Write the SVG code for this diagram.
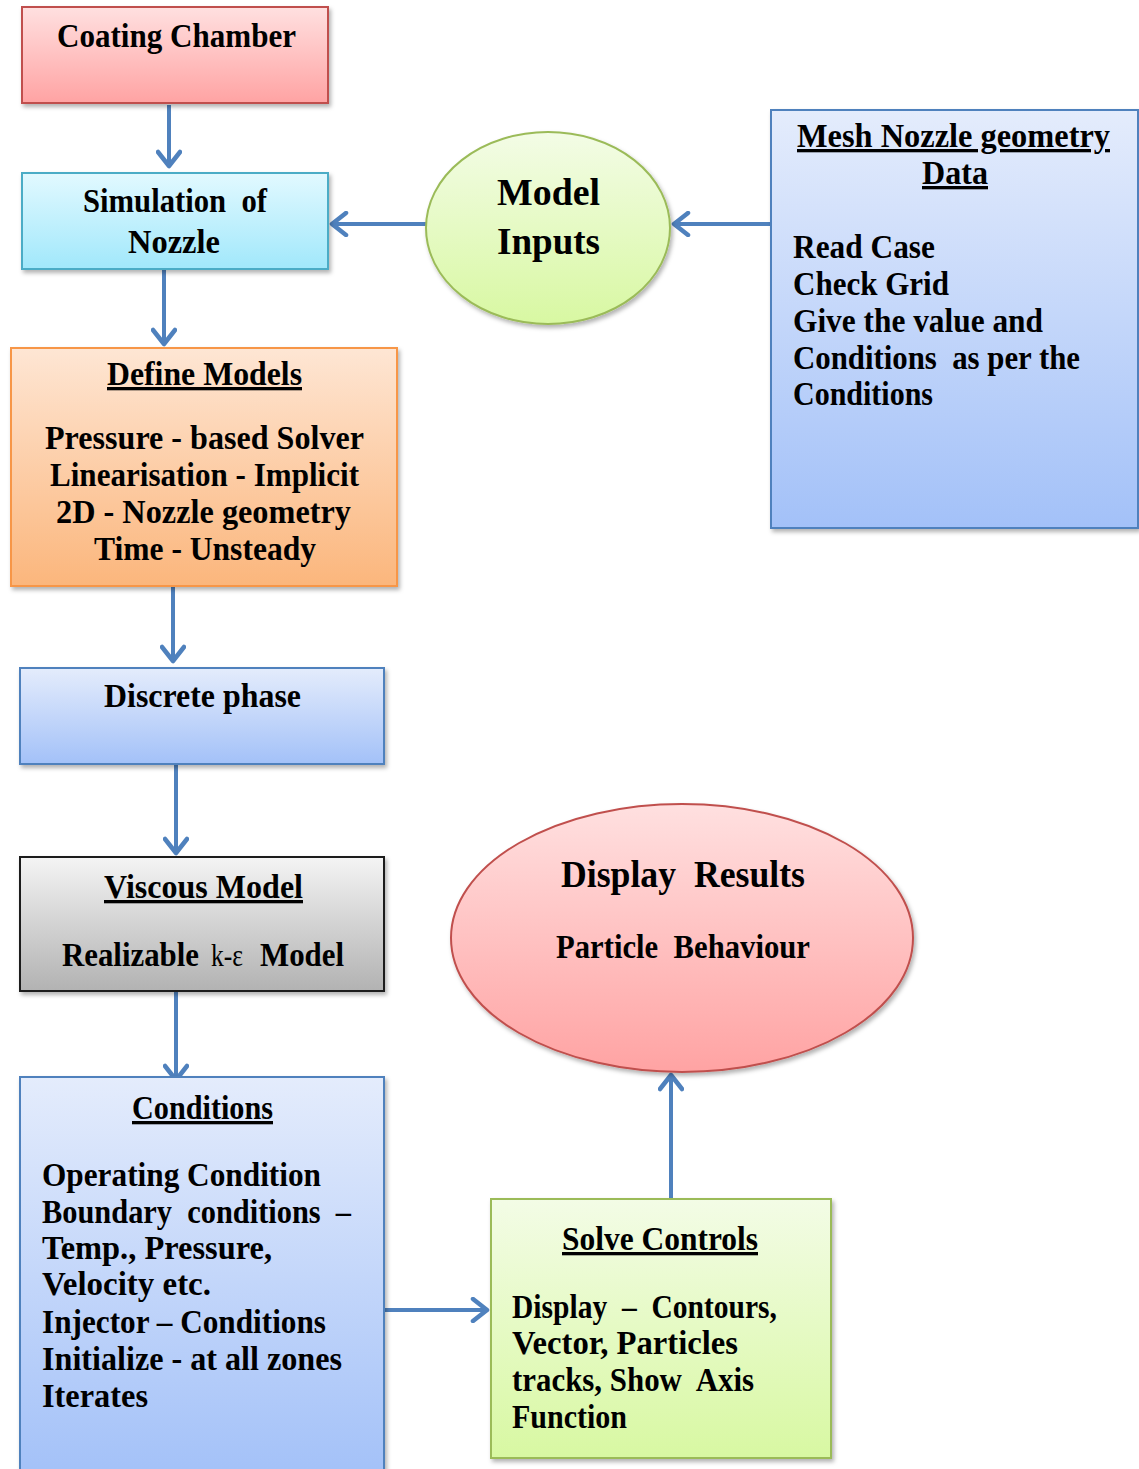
<svg xmlns="http://www.w3.org/2000/svg" width="1139" height="1469" viewBox="0 0 1139 1469">
<style>
text{font-family:"Liberation Serif","Times New Roman",serif;font-weight:bold;fill:#000;}
.t30{font-size:33px;}
.t34{font-size:37px;}
.c{text-anchor:middle;}
.u{text-decoration:underline;}
.n{font-weight:normal;}
.conn{stroke:#4f81bd;stroke-width:4;fill:none;marker-end:url(#arr);}
</style>
<defs>
<linearGradient id="gRed" x1="0" y1="0" x2="0" y2="1"><stop offset="0" stop-color="#ffe0e0"/><stop offset="1" stop-color="#ffa3a3"/></linearGradient>
<linearGradient id="gCyan" x1="0" y1="0" x2="0" y2="1"><stop offset="0" stop-color="#e2f9ff"/><stop offset="1" stop-color="#a1e8fb"/></linearGradient>
<linearGradient id="gGreen" x1="0" y1="0" x2="0" y2="1"><stop offset="0" stop-color="#f3fce6"/><stop offset="1" stop-color="#d8f8a2"/></linearGradient>
<linearGradient id="gBlue" x1="0" y1="0" x2="0" y2="1"><stop offset="0" stop-color="#e4ecfc"/><stop offset="1" stop-color="#a3c1f8"/></linearGradient>
<linearGradient id="gOrange" x1="0" y1="0" x2="0" y2="1"><stop offset="0" stop-color="#fee6d4"/><stop offset="1" stop-color="#fbb67c"/></linearGradient>
<linearGradient id="gGray" x1="0" y1="0" x2="0" y2="1"><stop offset="0" stop-color="#f4f4f4"/><stop offset="1" stop-color="#b2b2b2"/></linearGradient>
<filter id="sh" x="-10%" y="-10%" width="130%" height="130%"><feDropShadow dx="2" dy="3" stdDeviation="2" flood-color="#000" flood-opacity="0.3"/></filter>
<marker id="arr" markerUnits="userSpaceOnUse" markerWidth="26" markerHeight="26" viewBox="0 0 26 26" refX="23" refY="13" orient="auto">
<path d="M9,2 L23,13 L9,24" fill="none" stroke="#4f81bd" stroke-width="4.5" stroke-linecap="round" stroke-linejoin="round"/>
</marker>
</defs>

<g id="connectors">
<line class="conn" x1="169" y1="105" x2="169" y2="166"/>
<line class="conn" x1="164" y1="270" x2="164" y2="344"/>
<line class="conn" x1="426" y1="224" x2="332" y2="224"/>
<line class="conn" x1="771" y1="224" x2="674" y2="224"/>
<line class="conn" x1="173" y1="587" x2="173" y2="661"/>
<line class="conn" x1="176" y1="765" x2="176" y2="853"/>
<line class="conn" x1="176" y1="992" x2="176" y2="1080"/>
<line class="conn" x1="385" y1="1310" x2="487" y2="1310"/>
<line class="conn" x1="671" y1="1198" x2="671" y2="1075"/>
</g>

<g id="coating-chamber">
<rect x="22" y="7" width="306" height="96" fill="url(#gRed)" stroke="#c0504d" stroke-width="2" filter="url(#sh)"/>
<text class="t30 c" x="176.5" y="47" textLength="239" lengthAdjust="spacingAndGlyphs">Coating Chamber</text>
</g>

<g id="simulation-nozzle">
<rect x="22" y="173" width="306" height="96" fill="url(#gCyan)" stroke="#4bacc6" stroke-width="2" filter="url(#sh)"/>
<text class="t30 c" x="175" y="212" textLength="184" lengthAdjust="spacingAndGlyphs" xml:space="preserve">Simulation  of</text>
<text class="t30 c" x="174" y="253" textLength="92" lengthAdjust="spacingAndGlyphs">Nozzle</text>
</g>

<g id="model-inputs">
<ellipse cx="548" cy="228" rx="122" ry="96" fill="url(#gGreen)" stroke="#9bbb59" stroke-width="2" filter="url(#sh)"/>
<text class="t34 c" x="548.5" y="205" textLength="103" lengthAdjust="spacingAndGlyphs">Model</text>
<text class="t34 c" x="548.5" y="254" textLength="103" lengthAdjust="spacingAndGlyphs">Inputs</text>
</g>

<g id="mesh-data">
<rect x="771" y="110" width="367" height="418" fill="url(#gBlue)" stroke="#4f81bd" stroke-width="2" filter="url(#sh)"/>
<text class="t30 c u" x="953.5" y="147" textLength="313" lengthAdjust="spacingAndGlyphs">Mesh Nozzle geometry</text>
<text class="t30 c u" x="955" y="184" textLength="66" lengthAdjust="spacingAndGlyphs">Data</text>
<text class="t30" x="793" y="258" textLength="142" lengthAdjust="spacingAndGlyphs">Read Case</text>
<text class="t30" x="793" y="295" textLength="156" lengthAdjust="spacingAndGlyphs">Check Grid</text>
<text class="t30" x="793" y="332" textLength="250" lengthAdjust="spacingAndGlyphs">Give the value and</text>
<text class="t30" x="793" y="369" textLength="287" lengthAdjust="spacingAndGlyphs" xml:space="preserve">Conditions  as per the</text>
<text class="t30" x="793" y="405" textLength="140" lengthAdjust="spacingAndGlyphs">Conditions</text>
</g>

<g id="define-models">
<rect x="11" y="348" width="386" height="238" fill="url(#gOrange)" stroke="#f79646" stroke-width="2" filter="url(#sh)"/>
<text class="t30 c u" x="204.5" y="385" textLength="195" lengthAdjust="spacingAndGlyphs">Define Models</text>
<text class="t30 c" x="204.5" y="449" textLength="319" lengthAdjust="spacingAndGlyphs">Pressure - based Solver</text>
<text class="t30 c" x="204.5" y="486" textLength="309" lengthAdjust="spacingAndGlyphs">Linearisation - Implicit</text>
<text class="t30 c" x="203.5" y="523" textLength="295" lengthAdjust="spacingAndGlyphs">2D - Nozzle geometry</text>
<text class="t30 c" x="205" y="560" textLength="222" lengthAdjust="spacingAndGlyphs">Time - Unsteady</text>
</g>

<g id="discrete-phase">
<rect x="20" y="668" width="364" height="96" fill="url(#gBlue)" stroke="#4f81bd" stroke-width="2" filter="url(#sh)"/>
<text class="t30 c" x="202.5" y="707" textLength="197" lengthAdjust="spacingAndGlyphs">Discrete phase</text>
</g>

<g id="viscous-model">
<rect x="20" y="857" width="364" height="134" fill="url(#gGray)" stroke="#1a1a1a" stroke-width="2" filter="url(#sh)"/>
<text class="t30 c u" x="203.5" y="898" textLength="199" lengthAdjust="spacingAndGlyphs">Viscous Model</text>
<text class="t30" x="62" y="966" textLength="137" lengthAdjust="spacingAndGlyphs">Realizable</text>
<text class="n" x="211" y="966" font-size="31" textLength="32" lengthAdjust="spacingAndGlyphs">k-ε</text>
<text class="t30" x="260" y="966" textLength="84" lengthAdjust="spacingAndGlyphs">Model</text>
</g>

<g id="conditions">
<rect x="20" y="1077" width="364" height="400" fill="url(#gBlue)" stroke="#4f81bd" stroke-width="2" filter="url(#sh)"/>
<text class="t30 c u" x="202.5" y="1119" textLength="141" lengthAdjust="spacingAndGlyphs">Conditions</text>
<text class="t30" x="42" y="1186" textLength="279" lengthAdjust="spacingAndGlyphs">Operating Condition</text>
<text class="t30" x="42" y="1223" textLength="309" lengthAdjust="spacingAndGlyphs" xml:space="preserve">Boundary  conditions  –</text>
<text class="t30" x="42" y="1259" textLength="230" lengthAdjust="spacingAndGlyphs">Temp., Pressure,</text>
<text class="t30" x="42" y="1295" textLength="169" lengthAdjust="spacingAndGlyphs">Velocity etc.</text>
<text class="t30" x="42" y="1333" textLength="284" lengthAdjust="spacingAndGlyphs">Injector – Conditions</text>
<text class="t30" x="42" y="1370" textLength="300" lengthAdjust="spacingAndGlyphs">Initialize - at all zones</text>
<text class="t30" x="42" y="1407" textLength="106" lengthAdjust="spacingAndGlyphs">Iterates</text>
</g>

<g id="solve-controls">
<rect x="491" y="1199" width="340" height="259" fill="url(#gGreen)" stroke="#9bbb59" stroke-width="2" filter="url(#sh)"/>
<text class="t30 c u" x="660" y="1250" textLength="196" lengthAdjust="spacingAndGlyphs">Solve Controls</text>
<text class="t30" x="512" y="1318" textLength="265" lengthAdjust="spacingAndGlyphs" xml:space="preserve">Display  –  Contours,</text>
<text class="t30" x="512" y="1354" textLength="226" lengthAdjust="spacingAndGlyphs">Vector, Particles</text>
<text class="t30" x="512" y="1391" textLength="242" lengthAdjust="spacingAndGlyphs" xml:space="preserve">tracks, Show  Axis</text>
<text class="t30" x="512" y="1428" textLength="115" lengthAdjust="spacingAndGlyphs">Function</text>
</g>

<g id="display-results">
<ellipse cx="682" cy="938" rx="231" ry="134" fill="url(#gRed)" stroke="#c0504d" stroke-width="2" filter="url(#sh)"/>
<text class="t34 c" x="683" y="887" textLength="244" lengthAdjust="spacingAndGlyphs" xml:space="preserve">Display  Results</text>
<text class="t30 c" x="683" y="958" textLength="254" lengthAdjust="spacingAndGlyphs" xml:space="preserve">Particle  Behaviour</text>
</g>
</svg>
